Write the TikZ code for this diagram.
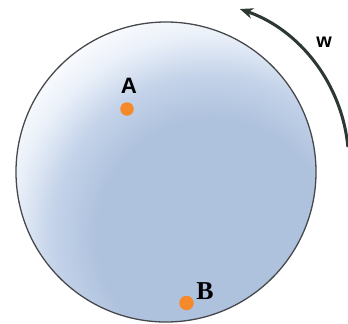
\documentclass[tikz,border=0pt]{standalone}
\usepackage{fontspec}
\setmainfont{Liberation Serif}
\setsansfont{Liberation Sans}
\usetikzlibrary{arrows.meta,calc}
\definecolor{discblue}{RGB}{174,193,221}
\definecolor{discmid}{RGB}{196,211,233}
\definecolor{disclite}{RGB}{234,240,249}
\definecolor{discedge}{RGB}{70,72,75}
\definecolor{dotorange}{RGB}{246,138,42}
\definecolor{arrowcol}{RGB}{44,56,50}
% 1bp of shading = 10px of picture (shaded square half-size 250px = 25bp)
\pgfdeclareradialshading{discshade}{\pgfpoint{0bp}{0bp}}{%
  color(0bp)=(discblue); color(11.5bp)=(discblue); color(16bp)=(discmid);
  color(20bp)=(disclite); color(24bp)=(white); color(50bp)=(white)}
\tikzset{
  dot/.style={circle, fill=dotorange, inner sep=0pt, minimum size=13.5*0.03cm},
  lblsans/.style={font=\sffamily\bfseries\fontsize{20}{20}\selectfont, inner sep=0pt},
  lblserif/.style={font=\rmfamily\bfseries\fontsize{22}{22}\selectfont, inner sep=0pt},
  spinarrow/.style={draw=arrowcol, line width=2.6pt, -{Stealth[length=0.4cm, width=0.32cm]}},
}
\begin{document}
\begin{tikzpicture}[x=0.03cm, y=0.03cm]
\useasboundingbox (0,0) rectangle (348,323);
% disc
\coordinate (dc) at (166,151);
\begin{scope}
  \clip (dc) circle[radius=4.5cm];
  \shade[shading=discshade] (212-250,88-250) rectangle (212+250,88+250);
\end{scope}
\node[circle, draw=discedge, line width=1.1pt, minimum size=9cm, inner sep=0pt] (disc) at (dc) {};
% points
\node[dot] (pa) at (127,214) {};
\node[lblsans, font=\sffamily\bfseries\fontsize{19}{19}\selectfont] (la) at (129,237) {A};
\node[dot, minimum size=14.5*0.03cm] (pb) at (186.5,20) {};
\node[lblserif] (lb) at (205,32) {B};
% rotation arrow
\coordinate (ac) at (186.6,161);
\coordinate (as) at ($(ac)+(5.3:162)$);
\draw[spinarrow] (as) arc[start angle=5.3, end angle=70.8, radius=4.86cm] coordinate (ae);
\node[lblsans, font=\sffamily\bfseries\fontsize{17}{17}\selectfont] (lw) at (324,281) {w};
\end{tikzpicture}
\end{document}
